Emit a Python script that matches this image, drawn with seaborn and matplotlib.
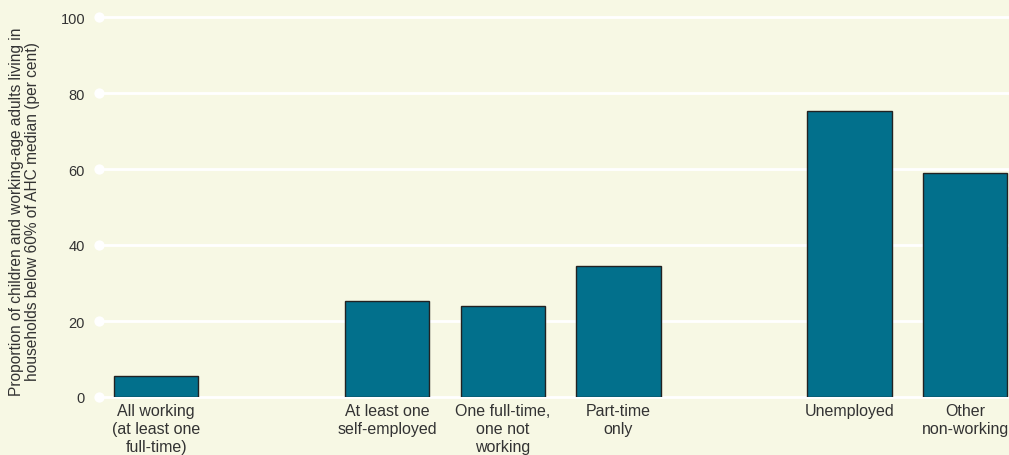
import matplotlib
matplotlib.use("Agg")
import matplotlib.pyplot as plt
import seaborn as sns
import pandas as pd

categories = [
    "All working\n(at least one\nfull-time)",
    "At least one\nself-employed",
    "One full-time,\none not\nworking",
    "Part-time\nonly",
    "Unemployed",
    "Other\nnon-working",
]
values = [5.5, 25.2, 24.0, 34.6, 75.3, 59.0]
y_ticks = [0, 20, 40, 60, 80, 100]
y_label = ("Proportion of children and working-age adults living in\n"
           "households below 60% of AHC median (per cent)")

# slot order with two empty spacer slots
gap1, gap2 = " ", "  "
order = [categories[0], gap1, categories[1], categories[2], categories[3],
         gap2, categories[4], categories[5]]

BG = "#f7f8e4"
BAR = "#02708c"
TXT = "#333333"

sns.set_style("white")
plt.rcParams["font.family"] = ["Liberation Sans", "DejaVu Sans"]

df = pd.DataFrame({"cat": categories, "val": values})

fig = plt.figure(figsize=(10.09, 4.56), dpi=100)
fig.patch.set_facecolor(BG)
ax = fig.add_axes([99 / 1009, (456 - 398) / 456, 1 - 99 / 1009, 380 / 456])
ax.set_facecolor(BG)

ax.set_ylim(0, 100)
for t in y_ticks:
    ax.axhline(t, color="white", lw=2, zorder=0, clip_on=False)

sns.barplot(data=df, x="cat", y="val", order=order, color=BAR, width=0.73,
            edgecolor="#222222", linewidth=1, saturation=1, ax=ax, zorder=2)

ax.set_xlim(-0.495, 7.38)
ax.scatter([-0.495] * len(y_ticks), y_ticks, s=55, color="white",
           zorder=3, clip_on=False, linewidths=0)

for s in ax.spines.values():
    s.set_visible(False)

ax.set_yticks(y_ticks)
ax.set_yticklabels([str(t) for t in y_ticks], fontsize=10.5, color=TXT)
ax.tick_params(axis="y", length=0, pad=10)
ax.tick_params(axis="x", length=0, pad=4)
ax.set_xticks(range(len(order)))
ax.set_xticklabels([o if o.strip() else "" for o in order], fontsize=11.5,
                   color=TXT, linespacing=1.28)
ax.set_xlabel("")
ax.set_ylabel(y_label, fontsize=11.2, color=TXT, linespacing=1.1)
ax.yaxis.set_label_coords(-0.065, 0.49)

fig.savefig("out.png", dpi=100, facecolor=BG)
